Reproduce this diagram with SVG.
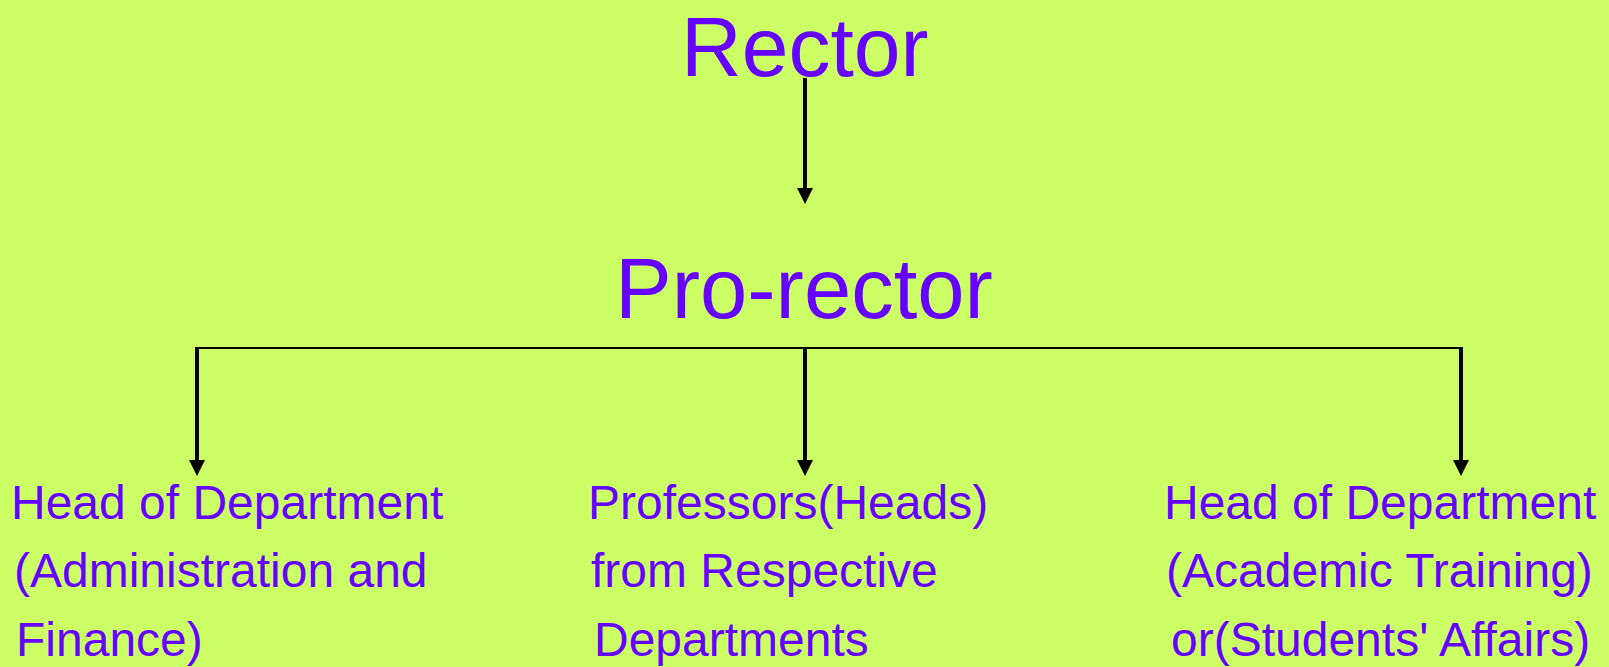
<svg xmlns="http://www.w3.org/2000/svg" width="1609" height="667" viewBox="0 0 1609 667">
<style>
.t{font-family:"Liberation Sans",Arial,sans-serif;fill:#6600FF;}
.big{font-size:85px;}
.top{font-size:84px;}
.sm{font-size:48px;}
.v{stroke:#000;stroke-width:4;fill:none;}
.h{stroke:#000;stroke-width:2;fill:none;}
</style>
<defs>
<marker id="ah" markerUnits="userSpaceOnUse" markerWidth="16" markerHeight="16" viewBox="0 0 16 16" refX="0" refY="8" orient="auto">
<path d="M0,0 L16,8 L0,16 z" fill="#000"/>
</marker>
</defs>
<rect width="1609" height="667" fill="#CCFF66"/>
<g id="connectors">
<line class="v" x1="805" y1="78" x2="805" y2="188" marker-end="url(#ah)"/>
<line class="h" x1="196" y1="348" x2="1462" y2="348"/>
<line class="v" x1="197" y1="347" x2="197" y2="460" marker-end="url(#ah)"/>
<line class="v" x1="805" y1="347" x2="805" y2="460" marker-end="url(#ah)"/>
<line class="v" x1="1461" y1="347" x2="1461" y2="460" marker-end="url(#ah)"/>
</g>
<g id="rector"><text class="t top" x="681" y="76">Rector</text></g>
<g id="prorector"><text class="t big" x="615" y="318">Pro-rector</text></g>
<g id="admin">
<text class="t sm" x="11" y="519">Head of Department</text>
<text class="t sm" x="14" y="587">(Administration and</text>
<text class="t sm" x="16" y="656">Finance)</text>
</g>
<g id="professors">
<text class="t sm" x="588" y="519">Professors(Heads)</text>
<text class="t sm" x="591" y="587">from Respective</text>
<text class="t sm" x="594" y="656">Departments</text>
</g>
<g id="academic">
<text class="t sm" x="1164" y="519">Head of Department</text>
<text class="t sm" x="1166" y="587">(Academic Training)</text>
<text class="t sm" x="1171" y="656">or(Students' Affairs)</text>
</g>
</svg>
